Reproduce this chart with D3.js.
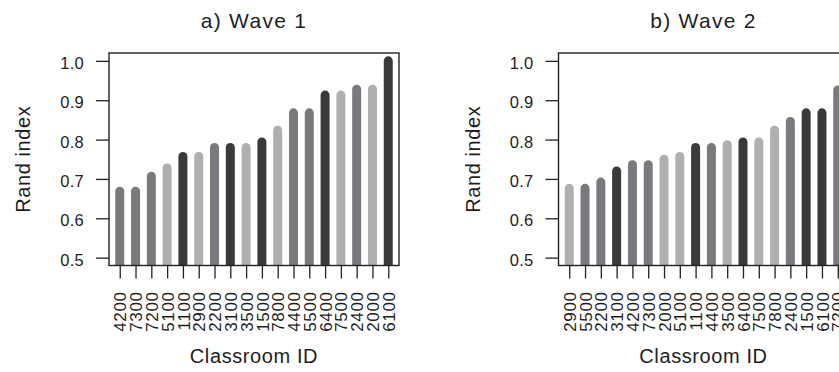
<!DOCTYPE html>
<html lang="en">
    <head>
        <meta charset="utf-8">
        <title>Rand index per classroom</title>
        <script src="https://cdn.jsdelivr.net/npm/d3@7"></script>
        <style>
            body {
                margin: 0;
                background: #ffffff;
            }
            text {
                font-family: "Liberation Sans", Arial, sans-serif;
                fill: #1e1e1e;
            }
        </style>
    </head>
    <body>
        <script type="text/javascript">

            // wave 1 classrooms, sorted by rand index
            var wave1Ids = ["4200", "7300", "7200", "5100", "1100", "2900", "2200", "3100", "3500",
                            "1500", "7800", "4400", "5500", "6400", "7500", "2400", "2000", "6100"];
            var wave1Values = [0.669, 0.669, 0.707, 0.728, 0.757, 0.757, 0.780, 0.780, 0.780,
                               0.794, 0.824, 0.868, 0.868, 0.913, 0.913, 0.928, 0.928, 1.000];
            // shade group of each bar (1 = dark, 2 = medium, 3 = light)
            var wave1Groups = [2, 2, 2, 3, 1, 3, 2, 1, 3, 1, 3, 2, 2, 1, 3, 2, 3, 1];

            // wave 2 classrooms
            var wave2Ids = ["2900", "5500", "2200", "3100", "4200", "7300", "2000", "5100", "1100",
                            "4400", "3500", "6400", "7500", "7800", "2400", "1500", "6100", "7200"];
            var wave2Values = [0.676, 0.676, 0.692, 0.720, 0.736, 0.736, 0.750, 0.757, 0.780,
                               0.780, 0.787, 0.794, 0.794, 0.824, 0.846, 0.868, 0.868, 0.926];
            var wave2Groups = [3, 2, 2, 1, 2, 2, 3, 3, 1, 2, 3, 1, 3, 3, 2, 1, 1, 2];

            // y axis ticks
            var yTicks = [0.5, 0.6, 0.7, 0.8, 0.9, 1.0];

            // sizes
            var w = 839;
            var h = 372;
            var shades = {1: "#3a3a3c", 2: "#7a7a7e", 3: "#afafb2"};

            var svg = d3.select("body")
                        .append("svg")
                        .attr("width", w)
                        .attr("height", h);

            // one panel of the figure
            function drawPanel(left, name, ids, values, groups, id) {
                var plotW = 290;
                var top = 53;
                var bottom = 265.5;

                var xScale = d3.scaleLinear()
                               .domain([0.32, ids.length + 0.68])
                               .range([left, left + plotW]);

                var yScale = d3.scaleLinear()
                               .domain([0.48, 1.02])
                               .range([bottom, top]);

                // clip so bars stop at the box
                svg.append("clipPath")
                   .attr("id", "clip" + id)
                   .append("rect")
                   .attr("x", left)
                   .attr("y", top)
                   .attr("width", plotW)
                   .attr("height", bottom - top);

                var g = svg.append("g");

                // the bars, drawn as thick lines with round tops
                g.append("g")
                 .attr("clip-path", "url(#clip" + id + ")")
                 .selectAll("line")
                 .data(values)
                 .enter()
                 .append("line")
                 .attr("x1", function(d, i) { return xScale(i + 1); })
                 .attr("x2", function(d, i) { return xScale(i + 1); })
                 .attr("y1", function(d) { return yScale(d); })
                 .attr("y2", bottom + 10)
                 .attr("stroke", function(d, i) { return shades[groups[i]]; })
                 .attr("stroke-width", 9)
                 .attr("stroke-linecap", "round");

                // y axis
                var yAxis = g.append("g")
                             .attr("transform", "translate(" + left + ",0)")
                             .call(d3.axisLeft(yScale)
                                     .tickValues(yTicks)
                                     .tickSize(13)
                                     .tickPadding(12)
                                     .tickFormat(d3.format(".1f")));
                yAxis.select(".domain").remove();
                yAxis.selectAll("line").attr("stroke", "#222").attr("stroke-width", 1.3);
                yAxis.selectAll("text")
                     .attr("dy", "0.45em")
                     .style("font-size", "16.5px")
                     .style("letter-spacing", "0.3px")
                     .style("font-family", "'Liberation Sans', Arial, sans-serif")
                     .attr("fill", "#1e1e1e");

                // x axis with rotated ids
                var xAxis = g.append("g")
                             .attr("transform", "translate(0," + bottom + ")")
                             .call(d3.axisBottom(xScale)
                                     .tickValues(d3.range(1, ids.length + 1))
                                     .tickSize(13)
                                     .tickFormat(function(d) { return ids[d - 1]; }));
                xAxis.select(".domain").remove();
                xAxis.selectAll("line").attr("stroke", "#222").attr("stroke-width", 1.3);
                xAxis.selectAll("text")
                     .attr("transform", "rotate(-90)")
                     .attr("text-anchor", "end")
                     .attr("x", -26)
                     .attr("y", 0)
                     .attr("dy", "0.36em")
                     .style("font-size", "17px")
                     .style("letter-spacing", "0.6px")
                     .style("font-family", "'Liberation Sans', Arial, sans-serif")
                     .attr("fill", "#1e1e1e");

                // the box
                g.append("rect")
                 .attr("x", left)
                 .attr("y", top)
                 .attr("width", plotW)
                 .attr("height", bottom - top)
                 .attr("fill", "none")
                 .attr("stroke", "#222")
                 .attr("stroke-width", 1.4);

                // title
                g.append("text")
                 .attr("x", left + plotW / 2)
                 .attr("y", 27.5)
                 .attr("text-anchor", "middle")
                 .style("font-size", "21px")
                 .style("letter-spacing", "1.3px")
                 .text(name);

                // y label
                g.append("text")
                 .attr("transform", "translate(" + (left - 79) + "," + ((top + bottom) / 2) + ") rotate(-90)")
                 .attr("text-anchor", "middle")
                 .style("font-size", "20px")
                 .style("letter-spacing", "0.6px")
                 .text("Rand index");

                // x label
                g.append("text")
                 .attr("x", left + plotW / 2)
                 .attr("y", 363)
                 .attr("text-anchor", "middle")
                 .style("font-size", "20px")
                 .style("letter-spacing", "0.6px")
                 .text("Classroom ID");
            }

            drawPanel(109, "a) Wave 1", wave1Ids, wave1Values, wave1Groups, 1);
            drawPanel(558.5, "b) Wave 2", wave2Ids, wave2Values, wave2Groups, 2);
        </script>
    </body>
</html>
